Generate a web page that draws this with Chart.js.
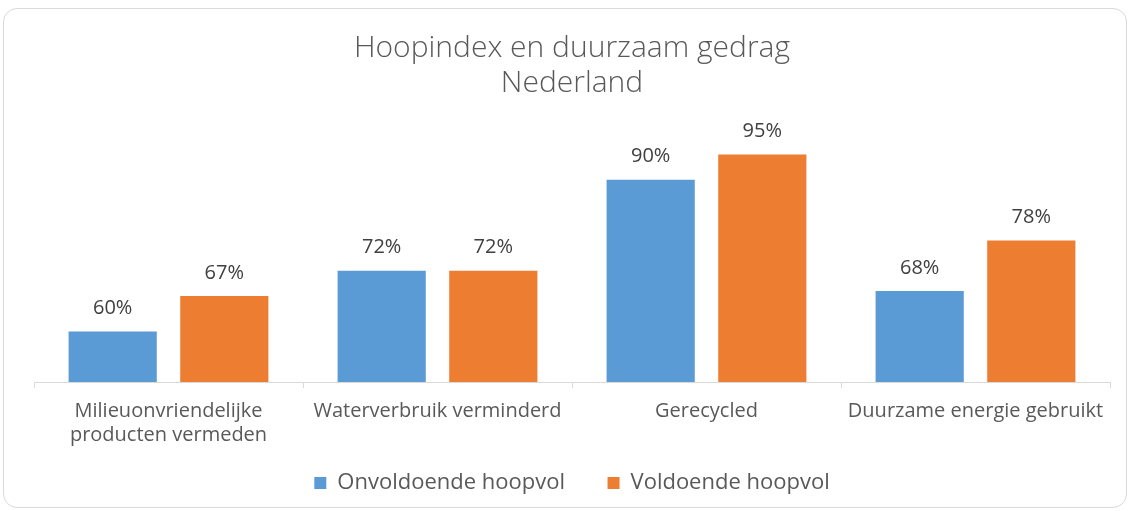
<!DOCTYPE html>
<html>
<head>
<meta charset="utf-8">
<script src="https://cdn.jsdelivr.net/npm/chart.js@4"></script>
<style>
  body { margin: 0; background: #fff; }
  .card {
    position: absolute; left: 3px; top: 8px; width: 1122px; height: 498px;
    border: 1px solid #d9d9d9; border-radius: 14px; background: #fff;
  }
  canvas { display: block; }
</style>
</head>
<body>
<div class="card"><canvas id="chart1" width="1122" height="498"></canvas></div>
<script>
const categories = [
  ['Milieuonvriendelijke', 'producten vermeden'],
  'Waterverbruik verminderd',
  'Gerecycled',
  'Duurzame energie gebruikt'
]
const onvoldoende = [60, 72, 90, 68]
const voldoende = [67, 72, 95, 78]
const seriesNames = ['Onvoldoende hoopvol', 'Voldoende hoopvol']

const textColor = '#595959'
const fontName = '"Open Sans", "Segoe UI", sans-serif'

// draws the % value above each bar
const barLabels = {
  id: 'barLabels',
  afterDatasetsDraw(chart) {
    const ctx = chart.ctx
    ctx.save()
    ctx.font = '20px ' + fontName
    ctx.fillStyle = '#404040'
    ctx.textAlign = 'center'
    ctx.textBaseline = 'middle'
    chart.data.datasets.forEach((ds, i) => {
      chart.getDatasetMeta(i).data.forEach((bar, j) => {
        ctx.fillText(ds.data[j] + '%', bar.x, bar.y - 23)
      })
    })
    ctx.restore()
  }
}

const ctx1 = document.querySelector('#chart1')
new Chart(ctx1, {
  type: 'bar',
  data: {
    labels: categories,
    datasets: [
      { label: seriesNames[0], data: onvoldoende, backgroundColor: '#5b9bd5' },
      { label: seriesNames[1], data: voldoende, backgroundColor: '#ed7d31' }
    ]
  },
  options: {
    responsive: false,
    animation: false,
    layout: { padding: { left: 30, right: 16, top: 22, bottom: 3 } },
    datasets: { bar: { categoryPercentage: 0.83, barPercentage: 0.79 } },
    scales: {
      y: { display: false, min: 50, max: 100 },
      x: {
        grid: { offset: true, drawOnChartArea: false, color: '#d9d9d9', tickLength: 6 },
        border: { color: '#d9d9d9' },
        ticks: { color: textColor, font: { family: fontName, size: 20, lineHeight: 1.2 }, padding: 11 }
      }
    },
    plugins: {
      title: {
        display: true,
        text: ['Hoopindex en duurzaam gedrag', 'Nederland'],
        color: textColor,
        font: { family: fontName, size: 30, weight: 300, lineHeight: 1.17 },
        padding: { top: 0, bottom: 28 }
      },
      legend: {
        position: 'bottom',
        labels: {
          color: textColor,
          font: { family: fontName, size: 22 },
          boxWidth: 12, boxHeight: 12, padding: 14,
          // wider gap after the first entry, like the original
          generateLabels(chart) {
            const items = Chart.defaults.plugins.legend.labels.generateLabels(chart)
            items[0].text += '     '
            return items
          }
        }
      },
      tooltip: { enabled: false }
    }
  },
  plugins: [barLabels]
})
</script>
</body>
</html>
